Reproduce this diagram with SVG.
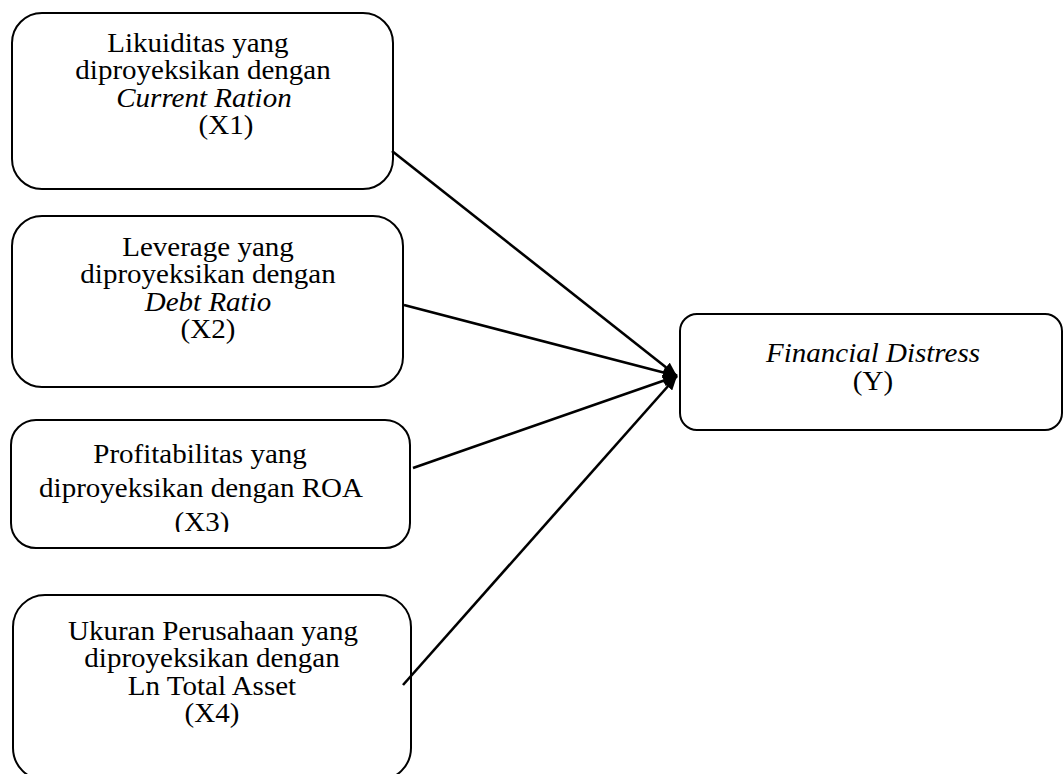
<svg xmlns="http://www.w3.org/2000/svg" width="1064" height="774" viewBox="0 0 1064 774">
<style>
.box{fill:#fff;stroke:#000;stroke-width:2}
.t{font-family:"Liberation Serif","Times New Roman",serif;font-size:27px;fill:#000;text-anchor:middle}
.i{font-style:italic}
.conn{stroke:#000;stroke-width:2.6;fill:none;marker-end:url(#ah)}
</style>
<defs>
<marker id="ah" markerUnits="userSpaceOnUse" markerWidth="15" markerHeight="12" refX="14" refY="6" orient="auto">
<path d="M0,0 L14,6 L0,12 z" fill="#000"/>
</marker>
<clipPath id="c3"><rect x="11" y="420" width="399" height="112"/></clipPath>
</defs>
<rect width="1064" height="774" fill="#fff"/>
<g id="x1">
<rect class="box" x="12" y="13" width="381" height="176" rx="30"/>
<text class="t" transform="translate(203 0) scale(1.075 1)"><tspan x="-4.7" y="52">Likuiditas yang</tspan><tspan x="0" y="79.5">diproyeksikan dengan</tspan><tspan class="i" x="0.9" y="107">Current Ration</tspan><tspan x="21.4" y="134.5">(X1)</tspan></text>
</g>
<g id="x2">
<rect class="box" x="12" y="216" width="391" height="171" rx="30"/>
<text class="t" transform="translate(208 0) scale(1.075 1)"><tspan x="0" y="256">Leverage yang</tspan><tspan x="0" y="283.5">diproyeksikan dengan</tspan><tspan class="i" x="0" y="311">Debt Ratio</tspan><tspan x="0" y="338.5">(X2)</tspan></text>
</g>
<g id="x3">
<rect class="box" x="11" y="420" width="399" height="128" rx="25"/>
<g clip-path="url(#c3)">
<text class="t" transform="translate(201 0) scale(1.075 1)"><tspan x="-0.9" y="463">Profitabilitas yang</tspan><tspan x="0" y="497">diproyeksikan dengan ROA</tspan><tspan x="0.9" y="531">(X3)</tspan></text>
</g>
</g>
<g id="x4">
<rect class="box" x="13" y="595" width="398" height="185" rx="32"/>
<text class="t" transform="translate(212 0) scale(1.075 1)"><tspan x="0.9" y="640">Ukuran Perusahaan yang</tspan><tspan x="0" y="667.5">diproyeksikan dengan</tspan><tspan x="0" y="695">Ln Total Asset</tspan><tspan x="0" y="722.5">(X4)</tspan></text>
</g>
<g id="y">
<rect class="box" x="680" y="314" width="382" height="116" rx="17"/>
<text class="t" transform="translate(873 0) scale(1.075 1)"><tspan class="i" x="0" y="362">Financial Distress</tspan><tspan x="0" y="390">(Y)</tspan></text>
</g>
<g id="connectors">
<line class="conn" x1="392" y1="151" x2="677" y2="376"/>
<line class="conn" x1="404" y1="305" x2="677" y2="376"/>
<line class="conn" x1="413" y1="468" x2="677" y2="376"/>
<line class="conn" x1="403" y1="685" x2="677" y2="376"/>
</g>
</svg>
